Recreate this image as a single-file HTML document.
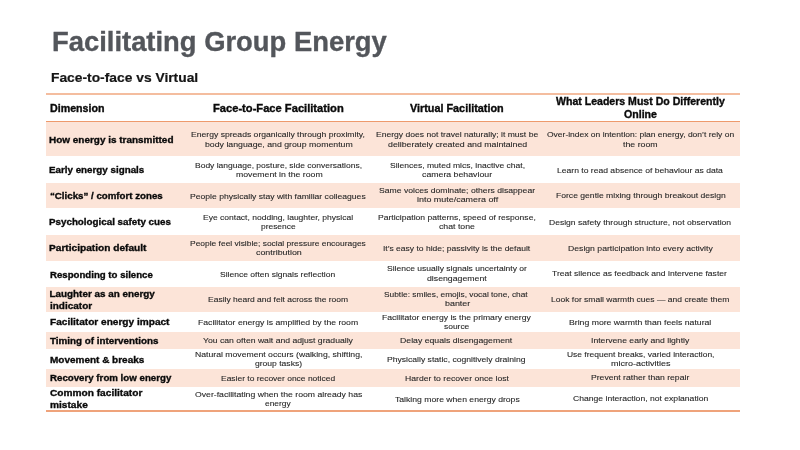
<!DOCTYPE html><html><head><meta charset='utf-8'><title>Facilitating Group Energy</title><style>
html,body{margin:0;padding:0;background:#fff;}
body{width:800px;height:450px;position:relative;overflow:hidden;font-family:"Liberation Sans",sans-serif;}
.t{position:absolute;white-space:pre;line-height:normal;transform-origin:0 0;}
.p{position:absolute;left:46px;width:694px;background:#fce4d8;}
.ln{position:absolute;left:46px;width:694px;}
body>div{filter:blur(0.2px);}
</style></head><body>
<div class='p' style='top:121.5px;height:34.70px'></div>
<div class='p' style='top:182.6px;height:25.60px'></div>
<div class='p' style='top:234.6px;height:26.20px'></div>
<div class='p' style='top:286.5px;height:25.30px'></div>
<div class='p' style='top:332.2px;height:16.80px'></div>
<div class='p' style='top:369.2px;height:17.40px'></div>
<div class='ln' style='top:93.2px;height:1.6px;background:#f4bd9f'></div>
<div class='ln' style='top:120.6px;height:1.6px;background:#ee9a6c'></div>
<div class='ln' style='top:410.4px;height:1.8px;background:#efa37b'></div>
<div class='t' style='left:52.03px;top:26.00px;font-size:27.8px;font-weight:700;color:#53565b;-webkit-text-stroke:0.35px currentColor;transform:scaleX(0.9852)'>Facilitating Group Energy</div>
<div class='t' style='left:51.35px;top:70.00px;font-size:13.2px;font-weight:700;color:#151515;-webkit-text-stroke:0.2px currentColor;transform:scaleX(1.0475)'>Face-to-face vs Virtual</div>
<div class='t' style='left:49.50px;top:102.00px;font-size:10.6px;font-weight:700;color:#0a0a0a;-webkit-text-stroke:0.35px currentColor;transform:scaleX(1.0074)'>Dimension</div>
<div class='t' style='left:213.25px;top:102.00px;font-size:10.6px;font-weight:700;color:#0a0a0a;-webkit-text-stroke:0.35px currentColor;transform:scaleX(1.0524)'>Face-to-Face Facilitation</div>
<div class='t' style='left:410.00px;top:102.00px;font-size:10.6px;font-weight:700;color:#0a0a0a;-webkit-text-stroke:0.35px currentColor;transform:scaleX(1.0217)'>Virtual Facilitation</div>
<div class='t' style='left:556.00px;top:95.00px;font-size:10.6px;font-weight:700;color:#0a0a0a;-webkit-text-stroke:0.35px currentColor;transform:scaleX(0.9959)'>What Leaders Must Do Differently</div>
<div class='t' style='left:624.00px;top:108.00px;font-size:10.6px;font-weight:700;color:#0a0a0a;-webkit-text-stroke:0.35px currentColor;transform:scaleX(1.0000)'>Online</div>
<div class='t' style='left:49.25px;top:134.00px;font-size:9.9px;font-weight:700;color:#0a0a0a;-webkit-text-stroke:0.35px currentColor;transform:scaleX(1.0081)'>How energy is transmitted</div>
<div class='t' style='left:49.10px;top:164.00px;font-size:9.9px;font-weight:700;color:#0a0a0a;-webkit-text-stroke:0.35px currentColor;transform:scaleX(0.9917)'>Early energy signals</div>
<div class='t' style='left:49.80px;top:190.00px;font-size:9.9px;font-weight:700;color:#0a0a0a;-webkit-text-stroke:0.35px currentColor;transform:scaleX(0.9826)'>“Clicks” / comfort zones</div>
<div class='t' style='left:49.10px;top:216.00px;font-size:9.9px;font-weight:700;color:#0a0a0a;-webkit-text-stroke:0.35px currentColor;transform:scaleX(0.9919)'>Psychological safety cues</div>
<div class='t' style='left:49.10px;top:242.00px;font-size:9.9px;font-weight:700;color:#0a0a0a;-webkit-text-stroke:0.35px currentColor;transform:scaleX(1.0263)'>Participation default</div>
<div class='t' style='left:49.50px;top:269.00px;font-size:9.9px;font-weight:700;color:#0a0a0a;-webkit-text-stroke:0.35px currentColor;transform:scaleX(0.9762)'>Responding to silence</div>
<div class='t' style='left:49.50px;top:288.00px;font-size:9.9px;font-weight:700;color:#0a0a0a;-webkit-text-stroke:0.35px currentColor;transform:scaleX(1.0000)'>Laughter as an energy</div>
<div class='t' style='left:49.50px;top:300.00px;font-size:9.9px;font-weight:700;color:#0a0a0a;-webkit-text-stroke:0.35px currentColor;transform:scaleX(1.0095)'>indicator</div>
<div class='t' style='left:49.50px;top:316.00px;font-size:9.9px;font-weight:700;color:#0a0a0a;-webkit-text-stroke:0.35px currentColor;transform:scaleX(1.0222)'>Facilitator energy impact</div>
<div class='t' style='left:49.50px;top:335.00px;font-size:9.9px;font-weight:700;color:#0a0a0a;-webkit-text-stroke:0.35px currentColor;transform:scaleX(0.9954)'>Timing of interventions</div>
<div class='t' style='left:49.60px;top:354.00px;font-size:9.9px;font-weight:700;color:#0a0a0a;-webkit-text-stroke:0.35px currentColor;transform:scaleX(1.0108)'>Movement &amp; breaks</div>
<div class='t' style='left:49.60px;top:372.00px;font-size:9.9px;font-weight:700;color:#0a0a0a;-webkit-text-stroke:0.35px currentColor;transform:scaleX(0.9823)'>Recovery from low energy</div>
<div class='t' style='left:49.60px;top:387.00px;font-size:9.9px;font-weight:700;color:#0a0a0a;-webkit-text-stroke:0.35px currentColor;transform:scaleX(1.0267)'>Common facilitator</div>
<div class='t' style='left:49.60px;top:399.00px;font-size:9.9px;font-weight:700;color:#0a0a0a;-webkit-text-stroke:0.35px currentColor;transform:scaleX(1.0270)'>mistake</div>
<div class='t' style='left:191.43px;top:130.00px;font-size:8.0px;font-weight:400;color:#262626;-webkit-text-stroke:0.1px currentColor;transform:scaleX(1.0750)'>Energy spreads organically through proximity,</div>
<div class='t' style='left:205.00px;top:140.00px;font-size:8.0px;font-weight:400;color:#262626;-webkit-text-stroke:0.1px currentColor;transform:scaleX(1.0926)'>body language, and group momentum</div>
<div class='t' style='left:195.04px;top:161.00px;font-size:8.0px;font-weight:400;color:#262626;-webkit-text-stroke:0.1px currentColor;transform:scaleX(1.0609)'>Body language, posture, side conversations,</div>
<div class='t' style='left:235.50px;top:170.00px;font-size:8.0px;font-weight:400;color:#262626;-webkit-text-stroke:0.1px currentColor;transform:scaleX(1.0886)'>movement in the room</div>
<div class='t' style='left:189.83px;top:192.00px;font-size:8.0px;font-weight:400;color:#262626;-webkit-text-stroke:0.1px currentColor;transform:scaleX(1.0736)'>People physically stay with familiar colleagues</div>
<div class='t' style='left:202.94px;top:213.00px;font-size:8.0px;font-weight:400;color:#262626;-webkit-text-stroke:0.1px currentColor;transform:scaleX(1.0643)'>Eye contact, nodding, laughter, physical</div>
<div class='t' style='left:261.30px;top:222.00px;font-size:8.0px;font-weight:400;color:#262626;-webkit-text-stroke:0.1px currentColor;transform:scaleX(1.0515)'>presence</div>
<div class='t' style='left:189.85px;top:239.00px;font-size:8.0px;font-weight:400;color:#262626;-webkit-text-stroke:0.1px currentColor;transform:scaleX(1.0542)'>People feel visible; social pressure encourages</div>
<div class='t' style='left:255.80px;top:248.00px;font-size:8.0px;font-weight:400;color:#262626;-webkit-text-stroke:0.1px currentColor;transform:scaleX(1.1073)'>contribution</div>
<div class='t' style='left:220.13px;top:270.00px;font-size:8.0px;font-weight:400;color:#262626;-webkit-text-stroke:0.1px currentColor;transform:scaleX(1.0654)'>Silence often signals reflection</div>
<div class='t' style='left:207.74px;top:295.00px;font-size:8.0px;font-weight:400;color:#262626;-webkit-text-stroke:0.1px currentColor;transform:scaleX(1.0611)'>Easily heard and felt across the room</div>
<div class='t' style='left:198.12px;top:318.00px;font-size:8.0px;font-weight:400;color:#262626;-webkit-text-stroke:0.1px currentColor;transform:scaleX(1.0816)'>Facilitator energy is amplified by the room</div>
<div class='t' style='left:203.30px;top:336.00px;font-size:8.0px;font-weight:400;color:#262626;-webkit-text-stroke:0.1px currentColor;transform:scaleX(1.0791)'>You can often wait and adjust gradually</div>
<div class='t' style='left:195.02px;top:350.00px;font-size:8.0px;font-weight:400;color:#262626;-webkit-text-stroke:0.1px currentColor;transform:scaleX(1.0817)'>Natural movement occurs (walking, shifting,</div>
<div class='t' style='left:254.60px;top:359.00px;font-size:8.0px;font-weight:400;color:#262626;-webkit-text-stroke:0.1px currentColor;transform:scaleX(1.0682)'>group tasks)</div>
<div class='t' style='left:220.84px;top:374.00px;font-size:8.0px;font-weight:400;color:#262626;-webkit-text-stroke:0.1px currentColor;transform:scaleX(1.0561)'>Easier to recover once noticed</div>
<div class='t' style='left:194.90px;top:390.00px;font-size:8.0px;font-weight:400;color:#262626;-webkit-text-stroke:0.1px currentColor;transform:scaleX(1.0844)'>Over-facilitating when the room already has</div>
<div class='t' style='left:265.40px;top:399.00px;font-size:8.0px;font-weight:400;color:#262626;-webkit-text-stroke:0.1px currentColor;transform:scaleX(1.0480)'>energy</div>
<div class='t' style='left:376.03px;top:130.00px;font-size:8.0px;font-weight:400;color:#262626;-webkit-text-stroke:0.1px currentColor;transform:scaleX(1.0693)'>Energy does not travel naturally; it must be</div>
<div class='t' style='left:387.60px;top:140.00px;font-size:8.0px;font-weight:400;color:#262626;-webkit-text-stroke:0.1px currentColor;transform:scaleX(1.0984)'>deliberately created and maintained</div>
<div class='t' style='left:389.63px;top:161.00px;font-size:8.0px;font-weight:400;color:#262626;-webkit-text-stroke:0.1px currentColor;transform:scaleX(1.0656)'>Silences, muted mics, inactive chat,</div>
<div class='t' style='left:422.00px;top:170.00px;font-size:8.0px;font-weight:400;color:#262626;-webkit-text-stroke:0.1px currentColor;transform:scaleX(1.0938)'>camera behaviour</div>
<div class='t' style='left:378.72px;top:186.00px;font-size:8.0px;font-weight:400;color:#262626;-webkit-text-stroke:0.1px currentColor;transform:scaleX(1.0764)'>Same voices dominate; others disappear</div>
<div class='t' style='left:416.80px;top:195.00px;font-size:8.0px;font-weight:400;color:#262626;-webkit-text-stroke:0.1px currentColor;transform:scaleX(1.1151)'>into mute/camera off</div>
<div class='t' style='left:378.03px;top:213.00px;font-size:8.0px;font-weight:400;color:#262626;-webkit-text-stroke:0.1px currentColor;transform:scaleX(1.0685)'>Participation patterns, speed of response,</div>
<div class='t' style='left:439.10px;top:222.00px;font-size:8.0px;font-weight:400;color:#262626;-webkit-text-stroke:0.1px currentColor;transform:scaleX(1.0909)'>chat tone</div>
<div class='t' style='left:383.33px;top:244.00px;font-size:8.0px;font-weight:400;color:#262626;-webkit-text-stroke:0.1px currentColor;transform:scaleX(1.0657)'>It’s easy to hide; passivity is the default</div>
<div class='t' style='left:386.83px;top:264.00px;font-size:8.0px;font-weight:400;color:#262626;-webkit-text-stroke:0.1px currentColor;transform:scaleX(1.0662)'>Silence usually signals uncertainty or</div>
<div class='t' style='left:427.10px;top:274.00px;font-size:8.0px;font-weight:400;color:#262626;-webkit-text-stroke:0.1px currentColor;transform:scaleX(1.0909)'>disengagement</div>
<div class='t' style='left:384.46px;top:290.00px;font-size:8.0px;font-weight:400;color:#262626;-webkit-text-stroke:0.1px currentColor;transform:scaleX(1.0423)'>Subtle: smiles, emojis, vocal tone, chat</div>
<div class='t' style='left:444.90px;top:299.00px;font-size:8.0px;font-weight:400;color:#262626;-webkit-text-stroke:0.1px currentColor;transform:scaleX(1.1136)'>banter</div>
<div class='t' style='left:382.12px;top:313.00px;font-size:8.0px;font-weight:400;color:#262626;-webkit-text-stroke:0.1px currentColor;transform:scaleX(1.0759)'>Facilitator energy is the primary energy</div>
<div class='t' style='left:444.40px;top:322.00px;font-size:8.0px;font-weight:400;color:#262626;-webkit-text-stroke:0.1px currentColor;transform:scaleX(1.0542)'>source</div>
<div class='t' style='left:400.41px;top:336.00px;font-size:8.0px;font-weight:400;color:#262626;-webkit-text-stroke:0.1px currentColor;transform:scaleX(1.0882)'>Delay equals disengagement</div>
<div class='t' style='left:387.23px;top:355.00px;font-size:8.0px;font-weight:400;color:#262626;-webkit-text-stroke:0.1px currentColor;transform:scaleX(1.0742)'>Physically static, cognitively draining</div>
<div class='t' style='left:404.82px;top:374.00px;font-size:8.0px;font-weight:400;color:#262626;-webkit-text-stroke:0.1px currentColor;transform:scaleX(1.0768)'>Harder to recover once lost</div>
<div class='t' style='left:394.52px;top:395.00px;font-size:8.0px;font-weight:400;color:#262626;-webkit-text-stroke:0.1px currentColor;transform:scaleX(1.0789)'>Talking more when energy drops</div>
<div class='t' style='left:547.30px;top:130.00px;font-size:8.0px;font-weight:400;color:#262626;-webkit-text-stroke:0.1px currentColor;transform:scaleX(1.0608)'>Over-index on intention: plan energy, don’t rely on</div>
<div class='t' style='left:623.40px;top:140.00px;font-size:8.0px;font-weight:400;color:#262626;-webkit-text-stroke:0.1px currentColor;transform:scaleX(1.0968)'>the room</div>
<div class='t' style='left:557.03px;top:166.00px;font-size:8.0px;font-weight:400;color:#262626;-webkit-text-stroke:0.1px currentColor;transform:scaleX(1.0714)'>Learn to read absence of behaviour as data</div>
<div class='t' style='left:555.53px;top:191.00px;font-size:8.0px;font-weight:400;color:#262626;-webkit-text-stroke:0.1px currentColor;transform:scaleX(1.0726)'>Force gentle mixing through breakout design</div>
<div class='t' style='left:549.43px;top:218.00px;font-size:8.0px;font-weight:400;color:#262626;-webkit-text-stroke:0.1px currentColor;transform:scaleX(1.0692)'>Design safety through structure, not observation</div>
<div class='t' style='left:567.82px;top:244.00px;font-size:8.0px;font-weight:400;color:#262626;-webkit-text-stroke:0.1px currentColor;transform:scaleX(1.0812)'>Design participation into every activity</div>
<div class='t' style='left:552.33px;top:269.00px;font-size:8.0px;font-weight:400;color:#262626;-webkit-text-stroke:0.1px currentColor;transform:scaleX(1.0675)'>Treat silence as feedback and intervene faster</div>
<div class='t' style='left:551.14px;top:295.00px;font-size:8.0px;font-weight:400;color:#262626;-webkit-text-stroke:0.1px currentColor;transform:scaleX(1.0639)'>Look for small warmth cues — and create them</div>
<div class='t' style='left:569.32px;top:318.00px;font-size:8.0px;font-weight:400;color:#262626;-webkit-text-stroke:0.1px currentColor;transform:scaleX(1.0846)'>Bring more warmth than feels natural</div>
<div class='t' style='left:590.92px;top:336.00px;font-size:8.0px;font-weight:400;color:#262626;-webkit-text-stroke:0.1px currentColor;transform:scaleX(1.0778)'>Intervene early and lightly</div>
<div class='t' style='left:567.10px;top:350.00px;font-size:8.0px;font-weight:400;color:#262626;-webkit-text-stroke:0.1px currentColor;transform:scaleX(1.0561)'>Use frequent breaks, varied interaction,</div>
<div class='t' style='left:610.70px;top:359.00px;font-size:8.0px;font-weight:400;color:#262626;-webkit-text-stroke:0.1px currentColor;transform:scaleX(1.1264)'>micro-activities</div>
<div class='t' style='left:590.92px;top:373.00px;font-size:8.0px;font-weight:400;color:#262626;-webkit-text-stroke:0.1px currentColor;transform:scaleX(1.0778)'>Prevent rather than repair</div>
<div class='t' style='left:572.80px;top:394.00px;font-size:8.0px;font-weight:400;color:#262626;-webkit-text-stroke:0.1px currentColor;transform:scaleX(1.0746)'>Change interaction, not explanation</div>
</body></html>
